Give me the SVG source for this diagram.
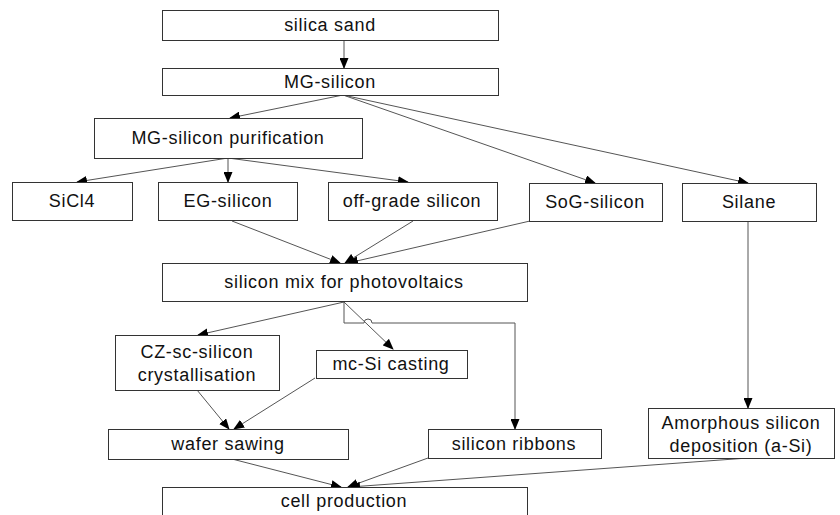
<svg xmlns="http://www.w3.org/2000/svg" width="840" height="515" viewBox="0 0 840 515">
<style>
.box{fill:#fff;stroke:#333;stroke-width:1}
.t{font-family:"Liberation Sans",Arial,sans-serif;font-size:18px;letter-spacing:0.7px;fill:#111;text-anchor:middle;dominant-baseline:central}
.c{fill:none;stroke:#555;stroke-width:1}
</style>
<defs>
<marker id="ah" markerWidth="11" markerHeight="9" refX="10" refY="4.5" orient="auto" markerUnits="userSpaceOnUse">
<path d="M0,0 L11,4.5 L0,9 Z" fill="#000"/>
</marker>
</defs>
<rect width="840" height="515" fill="#fff"/>
<g id="connectors">
<path class="c" d="M344,40 L344,68" marker-end="url(#ah)"/>
<path class="c" d="M343,95 L230,118" marker-end="url(#ah)"/>
<path class="c" d="M343,95 L595,183" marker-end="url(#ah)"/>
<path class="c" d="M343,95 L748,183" marker-end="url(#ah)"/>
<path class="c" d="M228,158 L77,182" marker-end="url(#ah)"/>
<path class="c" d="M228,158 L228,182" marker-end="url(#ah)"/>
<path class="c" d="M228,158 L408,182" marker-end="url(#ah)"/>
<path class="c" d="M232,221 L340,263" marker-end="url(#ah)"/>
<path class="c" d="M413,221 L345,263" marker-end="url(#ah)"/>
<path class="c" d="M530,221 L348,263" marker-end="url(#ah)"/>
<path class="c" d="M748,221 L748,408" marker-end="url(#ah)"/>
<path class="c" d="M344,302 L198,335" marker-end="url(#ah)"/>
<path class="c" d="M344,302 L393,349" marker-end="url(#ah)"/>
<path class="c" d="M344,302 L344,323 L364,323 A4,4 0 0 1 372,323 L515,323 L515,429" marker-end="url(#ah)"/>
<path class="c" d="M197,390 L229,429" marker-end="url(#ah)"/>
<path class="c" d="M315,378 L234,429" marker-end="url(#ah)"/>
<path class="c" d="M232,459 L341,487" marker-end="url(#ah)"/>
<path class="c" d="M428,458 L348,487" marker-end="url(#ah)"/>
<path class="c" d="M748,458 L350,487" marker-end="url(#ah)"/>
</g>
<g id="silica-sand"><rect class="box" x="162.5" y="10.5" width="336" height="30"/><text class="t" x="330" y="25">silica sand</text></g>
<g id="mg-silicon"><rect class="box" x="162.5" y="68.5" width="336" height="27"/><text class="t" x="330" y="82">MG-silicon</text></g>
<g id="mg-purification"><rect class="box" x="94.5" y="118.5" width="268" height="40"/><text class="t" x="228" y="138">MG-silicon purification</text></g>
<g id="sicl4"><rect class="box" x="12.5" y="182.5" width="120" height="38"/><text class="t" x="72" y="201">SiCl4</text></g>
<g id="eg-silicon"><rect class="box" x="158.5" y="182.5" width="139" height="38"/><text class="t" x="228" y="201">EG-silicon</text></g>
<g id="off-grade"><rect class="box" x="328.5" y="182.5" width="169" height="38"/><text class="t" x="412" y="201">off-grade silicon</text></g>
<g id="sog-silicon"><rect class="box" x="529.5" y="183.5" width="133" height="38"/><text class="t" x="595" y="202">SoG-silicon</text></g>
<g id="silane"><rect class="box" x="682.5" y="183.5" width="134" height="38"/><text class="t" x="749" y="202">Silane</text></g>
<g id="silicon-mix"><rect class="box" x="162.5" y="263.5" width="365" height="38"/><text class="t" x="344" y="282">silicon mix for photovoltaics</text></g>
<g id="cz-silicon"><rect class="box" x="115.5" y="335.5" width="164" height="55"/><text class="t" x="197" y="352">CZ-sc-silicon</text><text class="t" x="197" y="375">crystallisation</text></g>
<g id="mc-si"><rect class="box" x="316.5" y="350.5" width="151" height="28"/><text class="t" x="391" y="364">mc-Si casting</text></g>
<g id="wafer-sawing"><rect class="box" x="108.5" y="429.5" width="240" height="30"/><text class="t" x="228" y="444">wafer sawing</text></g>
<g id="silicon-ribbons"><rect class="box" x="428.5" y="429.5" width="173" height="29"/><text class="t" x="514" y="444">silicon ribbons</text></g>
<g id="amorphous"><rect class="box" x="648.5" y="408.5" width="186" height="50"/><text class="t" x="741" y="423">Amorphous silicon</text><text class="t" x="741" y="446">deposition (a-Si)</text></g>
<g id="cell-production"><rect class="box" x="162.5" y="487.5" width="365" height="40"/><text class="t" x="344" y="501">cell production</text></g>
</svg>
